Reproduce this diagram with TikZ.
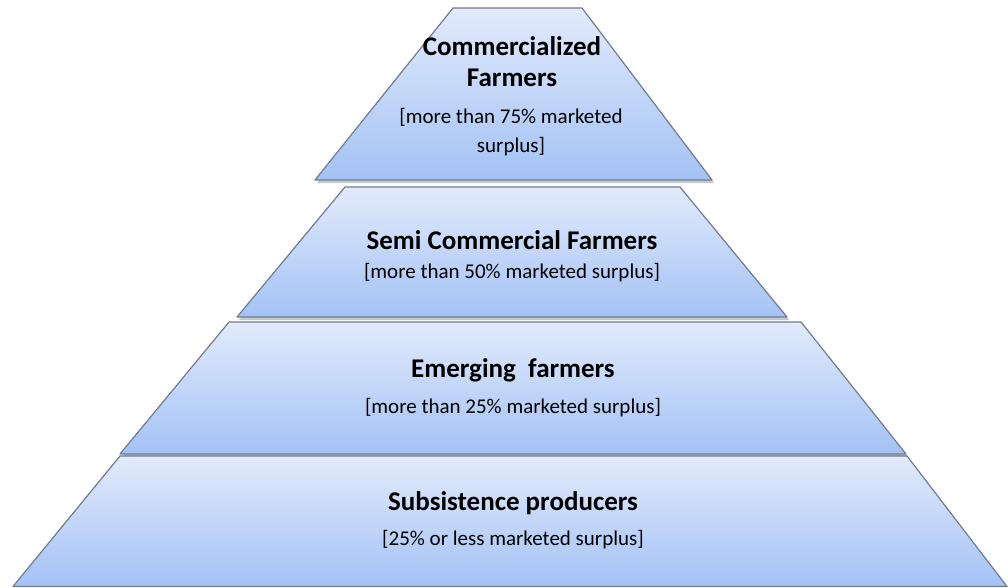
\documentclass[tikz,border=0pt]{standalone}
\usepackage{fontspec}
\setmainfont{Carlito}
\definecolor{tiertop}{RGB}{226,234,251}
\definecolor{tierbottom}{RGB}{163,194,245}
\definecolor{edgegray}{RGB}{112,124,142}
\begin{document}
\begin{tikzpicture}[x=1pt,y=-1pt,
  tier/.style={draw=edgegray, line width=1.2pt, top color=tiertop, bottom color=tierbottom, line join=round},
  tiershadow/.style={fill=black, opacity=0.22},
  title/.style={font=\fontsize{27}{31}\selectfont\bfseries, align=center, inner sep=0pt, text=black},
  note/.style={font=\fontsize{21}{29}\selectfont, align=center, inner sep=0pt, text=black}]
\useasboundingbox (0,0) rectangle (1008,588);

% soft shadows under each tier
\fill[tiershadow] (455,11) -- (584,11) -- (714,183) -- (317,183) -- cycle;
\fill[tiershadow] (347,190) -- (682,190) -- (789,320) -- (239,320) -- cycle;
\fill[tiershadow] (231,325) -- (803,325) -- (908,457) -- (122,457) -- cycle;

% the four tiers of the pyramid, top to bottom
\path[tier] (453,8) -- (582,8) -- (712,180) -- (315,180) -- cycle;
\path[tier] (345,187) -- (680,187) -- (787,317) -- (237,317) -- cycle;
\path[tier] (229,322) -- (801,322) -- (906,454) -- (120,454) -- cycle;
\path[tier] (120,456) -- (907,456) -- (1007,586.5) -- (13,586.5) -- cycle;

% labels
\node[title] (t1) at (512,62) {Commercialized\\Farmers};
\node[note]  (n1) at (511,132) {[more than 75\% marketed\\surplus]};
\node[title] (t2) at (512,240) {Semi Commercial Farmers};
\node[note]  (n2) at (512,273) {[more than 50\% marketed surplus]};
\node[title] (t3) at (513,370) {Emerging\ \ farmers};
\node[note]  (n3) at (513,408) {[more than 25\% marketed surplus]};
\node[title] (t4) at (513,503) {Subsistence producers};
\node[note]  (n4) at (513,540) {[25\% or less marketed surplus]};
\end{tikzpicture}
\end{document}
